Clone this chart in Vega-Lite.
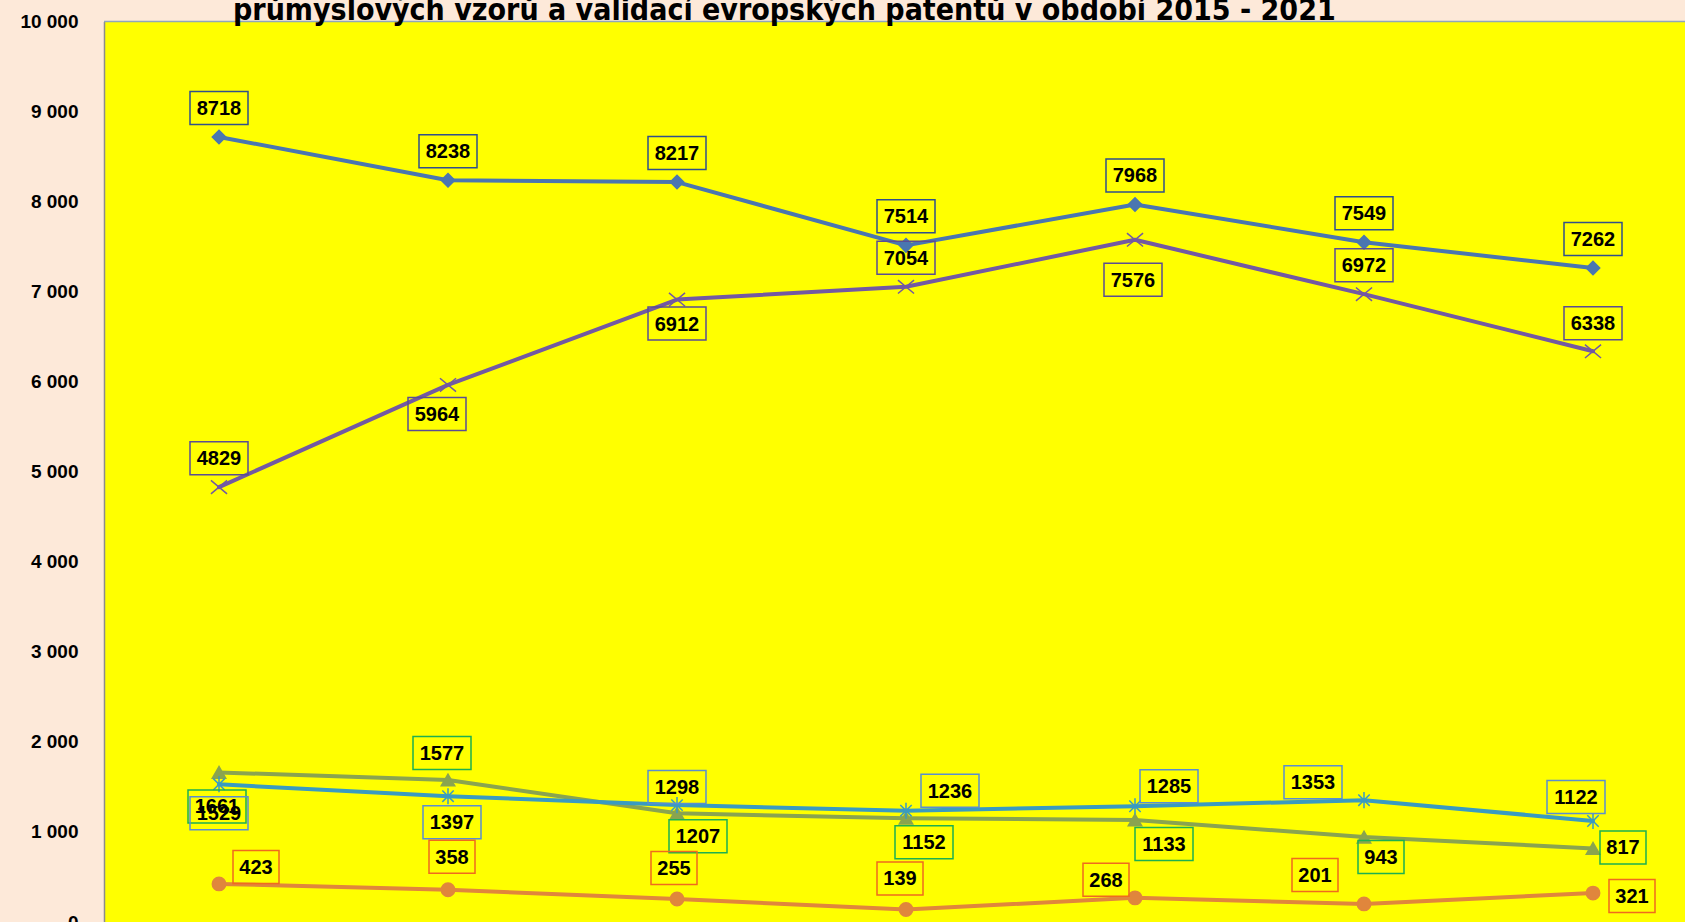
{
  "$schema": "https://vega.github.io/schema/vega-lite/v6.json",
  "autosize": {"type": "none"},
  "padding": {"left": 104, "top": 21.5, "right": 0, "bottom": 0},
  "width": 1581,
  "height": 900.5,
  "background": "#FDE9D9",
  "title": {
    "text": "průmyslových vzorů a validací evropských patentů v období 2015 - 2021",
    "anchor": "start",
    "frame": "group",
    "dx": 129,
    "dy": 37,
    "offset": 0,
    "baseline": "alphabetic",
    "font": "DejaVu Sans Condensed, DejaVu Sans",
    "fontSize": 30,
    "fontWeight": "bold",
    "color": "#000000"
  },
  "params": [
    {"name": "DX", "value": {
      "OZ": [0, 0, 0, 0, 0, 0, 0],
      "VAL": [0, -11, 0, 0, -2, 0, 0],
      "UV": [-2, -6, 21, 18, 29, 17, 30],
      "VYN": [0, 4, 0, 44, 34, -51, -17],
      "PV": [37, 4, -3, -6, -29, -49, 39]
    }},
    {"name": "DY", "value": {
      "OZ": [-29, -29, -29, -29, -29, -29, -29],
      "VAL": [-29, 29, 24, -29, 40, -29, -28],
      "UV": [34, -27, 23, 24, 24, 20, -1],
      "VYN": [29, 26, -18, -20, -20, -18, -24],
      "PV": [-17, -33, -31, -31, -18, -29, 3]
    }}
  ],
  "data": {"values": [
    {"k": "OZ", "s": "Ochranné známky", "year": 2015, "v": 8718},
    {"k": "OZ", "s": "Ochranné známky", "year": 2016, "v": 8238},
    {"k": "OZ", "s": "Ochranné známky", "year": 2017, "v": 8217},
    {"k": "OZ", "s": "Ochranné známky", "year": 2018, "v": 7514},
    {"k": "OZ", "s": "Ochranné známky", "year": 2019, "v": 7968},
    {"k": "OZ", "s": "Ochranné známky", "year": 2020, "v": 7549},
    {"k": "OZ", "s": "Ochranné známky", "year": 2021, "v": 7262},
    {"k": "VAL", "s": "Validace evropských patentů", "year": 2015, "v": 4829},
    {"k": "VAL", "s": "Validace evropských patentů", "year": 2016, "v": 5964},
    {"k": "VAL", "s": "Validace evropských patentů", "year": 2017, "v": 6912},
    {"k": "VAL", "s": "Validace evropských patentů", "year": 2018, "v": 7054},
    {"k": "VAL", "s": "Validace evropských patentů", "year": 2019, "v": 7576},
    {"k": "VAL", "s": "Validace evropských patentů", "year": 2020, "v": 6972},
    {"k": "VAL", "s": "Validace evropských patentů", "year": 2021, "v": 6338},
    {"k": "UV", "s": "Užitné vzory", "year": 2015, "v": 1661},
    {"k": "UV", "s": "Užitné vzory", "year": 2016, "v": 1577},
    {"k": "UV", "s": "Užitné vzory", "year": 2017, "v": 1207},
    {"k": "UV", "s": "Užitné vzory", "year": 2018, "v": 1152},
    {"k": "UV", "s": "Užitné vzory", "year": 2019, "v": 1133},
    {"k": "UV", "s": "Užitné vzory", "year": 2020, "v": 943},
    {"k": "UV", "s": "Užitné vzory", "year": 2021, "v": 817},
    {"k": "VYN", "s": "Vynálezy", "year": 2015, "v": 1529},
    {"k": "VYN", "s": "Vynálezy", "year": 2016, "v": 1397},
    {"k": "VYN", "s": "Vynálezy", "year": 2017, "v": 1298},
    {"k": "VYN", "s": "Vynálezy", "year": 2018, "v": 1236},
    {"k": "VYN", "s": "Vynálezy", "year": 2019, "v": 1285},
    {"k": "VYN", "s": "Vynálezy", "year": 2020, "v": 1353},
    {"k": "VYN", "s": "Vynálezy", "year": 2021, "v": 1122},
    {"k": "PV", "s": "Průmyslové vzory", "year": 2015, "v": 423},
    {"k": "PV", "s": "Průmyslové vzory", "year": 2016, "v": 358},
    {"k": "PV", "s": "Průmyslové vzory", "year": 2017, "v": 255},
    {"k": "PV", "s": "Průmyslové vzory", "year": 2018, "v": 139},
    {"k": "PV", "s": "Průmyslové vzory", "year": 2019, "v": 268},
    {"k": "PV", "s": "Průmyslové vzory", "year": 2020, "v": 201},
    {"k": "PV", "s": "Průmyslové vzory", "year": 2021, "v": 321}
  ]},
  "layer": [
    {
      "mark": {"type": "line", "strokeWidth": 4, "strokeCap": "round", "strokeJoin": "round"},
      "encoding": {
        "x": {"field": "year", "type": "ordinal", "scale": {"type": "point", "range": [115, 1489], "padding": 0}, "axis": null},
        "y": {"field": "v", "type": "quantitative", "scale": {"domain": [0, 10000], "nice": false},
          "axis": {"values": [0, 1000, 2000, 3000, 4000, 5000, 6000, 7000, 8000, 9000, 10000],
            "labelExpr": "replace(format(datum.value, ','), ',', ' ')",
            "labelFont": "Liberation Sans", "labelFontSize": 19, "labelFontWeight": "bold", "labelColor": "#000000",
            "labelPadding": 26, "ticks": false, "grid": false, "domainColor": "#8C8C8C", "domainWidth": 1.5,
            "title": null, "labelOverlap": false}},
        "color": {"field": "k", "type": "nominal", "legend": null,
          "scale": {"domain": ["OZ", "VAL", "UV", "VYN", "PV"], "range": ["#4A76B0", "#7359A2", "#8AA44F", "#3A9BC0", "#E0863C"]}},
        "detail": {"field": "s"}
      }
    },
    {
      "mark": {"type": "point", "filled": true, "opacity": 1, "size": 180, "strokeWidth": 1.5},
      "encoding": {
        "x": {"field": "year", "type": "ordinal", "scale": {"type": "point", "range": [115, 1489], "padding": 0}, "axis": null},
        "y": {"field": "v", "type": "quantitative"},
        "shape": {"field": "k", "type": "nominal", "legend": null,
          "scale": {"domain": ["OZ", "VAL", "UV", "VYN", "PV"], "range": ["diamond", "M-1.2,-1L1.2,1M-1.2,1L1.2,-1", "triangle-up", "M-0.85,-0.85L0.85,0.85M-0.85,0.85L0.85,-0.85M0,-1.2L0,1.2", "circle"]}},
        "fill": {"field": "k", "type": "nominal", "legend": null,
          "scale": {"domain": ["OZ", "VAL", "UV", "VYN", "PV"], "range": ["#4A76B0", "#7359A2", "#8AA44F", "#3A9BC0", "#E0863C"]}},
        "stroke": {"field": "k", "type": "nominal", "legend": null,
          "scale": {"domain": ["OZ", "VAL", "UV", "VYN", "PV"], "range": ["#4A76B0", "#7359A2", "#8AA44F", "#3A9BC0", "#E0863C"]}}
      }
    },
    {
      "mark": {"type": "point", "filled": false, "fill": null, "opacity": 1, "size": 4, "strokeWidth": 1.5,
        "xOffset": {"expr": "DX[datum.k][datum.year - 2015]"},
        "yOffset": {"expr": "DY[datum.k][datum.year - 2015]"}},
      "encoding": {
        "x": {"field": "year", "type": "ordinal", "scale": {"type": "point", "range": [115, 1489], "padding": 0}, "axis": null},
        "y": {"field": "v", "type": "quantitative"},
        "shape": {"condition": {"test": "datum.v < 1000", "value": "M-23,-16.5H23V16.5H-23Z"}, "value": "M-29,-16.5H29V16.5H-29Z"},
        "stroke": {"field": "k", "type": "nominal", "legend": null,
          "scale": {"domain": ["OZ", "VAL", "UV", "VYN", "PV"], "range": ["#2F4F8C", "#5A4C94", "#1DB050", "#5A8ED0", "#F06A1E"]}}
      }
    },
    {
      "mark": {"type": "text", "font": "Liberation Sans", "fontSize": 20, "fontWeight": "bold", "color": "#000000",
        "align": "center", "baseline": "middle",
        "dx": {"expr": "DX[datum.k][datum.year - 2015]"},
        "dy": {"expr": "DY[datum.k][datum.year - 2015] + 1"}},
      "encoding": {
        "x": {"field": "year", "type": "ordinal", "scale": {"type": "point", "range": [115, 1489], "padding": 0}, "axis": null},
        "y": {"field": "v", "type": "quantitative"},
        "text": {"field": "v", "type": "quantitative", "format": "d"}
      }
    },
    {
      "data": {"values": [{}]},
      "mark": {"type": "rule", "color": "#8FA6BD", "strokeWidth": 1.5},
      "encoding": {"y": {"datum": 10000, "type": "quantitative"}}
    }
  ],
  "resolve": {"scale": {"stroke": "independent", "fill": "independent", "shape": "independent", "color": "independent"}},
  "config": {"view": {"fill": "#FFFF00", "stroke": null}}
}
